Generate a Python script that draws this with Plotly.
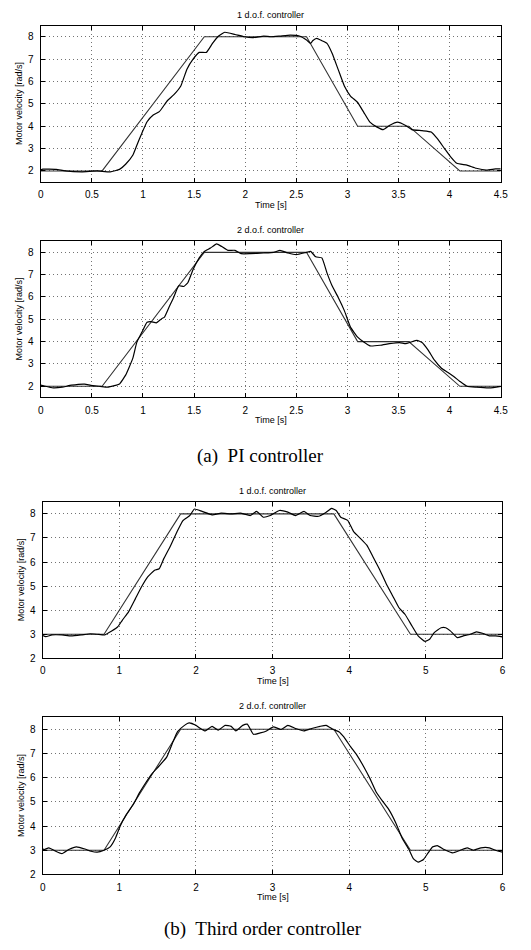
import plotly.graph_objects as go

# ---------------- data ----------------
# Reference trajectories
t_ref_pi = [0, 0.6, 1.6, 2.6, 3.1, 3.6, 4.1, 4.5]
v_ref_pi = [2, 2, 8, 8, 4, 4, 2, 2]
t_ref_3rd = [0, 0.8, 1.8, 3.8, 4.8, 6.0]
v_ref_3rd = [3, 3, 8, 8, 3, 3]

# (a) PI controller, 1 d.o.f.
t_pi1 = [0.0, 0.02, 0.15, 0.24, 0.4, 0.55, 0.68, 0.77, 0.83, 0.9, 0.94, 0.99, 1.04, 1.1, 1.16,
         1.24, 1.3, 1.37, 1.43, 1.49, 1.55, 1.62, 1.68, 1.74, 1.8, 1.9, 1.99, 2.08, 2.18, 2.25,
         2.34, 2.44, 2.53, 2.6, 2.64, 2.66, 2.7, 2.75, 2.8, 2.85, 2.91, 2.97, 3.03, 3.1, 3.16,
         3.22, 3.29, 3.35, 3.41, 3.49, 3.57, 3.63, 3.73, 3.82, 3.88, 3.95, 4.01, 4.07, 4.17,
         4.26, 4.36, 4.45, 4.5]
v_pi1 = [2.05, 2.08, 2.07, 2.0, 1.96, 2.0, 1.96, 2.07, 2.3, 2.7, 3.15, 3.7, 4.2, 4.5, 4.65,
         5.15, 5.4, 5.8, 6.55, 7.0, 7.3, 7.3, 7.7, 8.03, 8.2, 8.1, 8.0, 7.96, 8.03, 8.0,
         8.03, 8.07, 8.03, 7.85, 7.7, 7.82, 7.93, 7.82, 7.7, 7.26, 6.53, 5.8, 5.35, 5.06, 4.62,
         4.18, 3.96, 3.85, 4.03, 4.18, 4.03, 3.85, 3.8, 3.74, 3.44, 3.0, 2.63, 2.34, 2.26,
         2.12, 2.04, 2.09, 2.09]

# (a) PI controller, 2 d.o.f.
t_pi2 = [0.0, 0.02, 0.12, 0.21, 0.3, 0.43, 0.49, 0.58, 0.65, 0.73, 0.77, 0.83, 0.9, 0.94, 0.99,
         1.04, 1.08, 1.13, 1.18, 1.21, 1.26, 1.3, 1.35, 1.4, 1.44, 1.49, 1.55, 1.6, 1.66, 1.72,
         1.77, 1.83, 1.9, 1.96, 2.05, 2.18, 2.28, 2.34, 2.42, 2.5, 2.6, 2.64, 2.69, 2.75, 2.8,
         2.85, 2.91, 2.97, 3.03, 3.1, 3.16, 3.22, 3.32, 3.41, 3.51, 3.57, 3.62, 3.68, 3.73,
         3.79, 3.85, 3.92, 3.98, 4.04, 4.1, 4.17, 4.26, 4.39, 4.5]
v_pi2 = [2.05, 2.03, 1.93, 1.96, 2.05, 2.1, 2.04, 2.0, 1.96, 2.04, 2.1, 2.5, 3.25, 3.98, 4.43,
         4.87, 4.9, 4.84, 5.02, 5.1, 5.6, 5.98, 6.5, 6.47, 6.65, 7.23, 7.75, 8.04, 8.19, 8.38,
         8.26, 8.09, 8.09, 7.94, 7.94, 7.97, 8.0, 8.09, 7.97, 7.9, 8.0, 8.04, 7.8, 7.75, 7.08,
         6.5, 5.98, 5.39, 4.65, 4.2, 3.98, 3.81, 3.84, 3.91, 3.96, 3.91, 3.98, 4.06, 3.96,
         3.62, 3.18, 2.81, 2.63, 2.44, 2.22, 2.0, 1.96, 1.93, 2.0]

# (b) Third order controller, 1 d.o.f.
t_3rd1 = [0.0, 0.04, 0.12, 0.25, 0.37, 0.5, 0.62, 0.71, 0.81, 0.9, 0.98, 1.04, 1.12, 1.21, 1.29,
          1.37, 1.46, 1.52, 1.58, 1.67, 1.75, 1.83, 1.92, 1.98, 2.08, 2.21, 2.33, 2.46, 2.58,
          2.71, 2.79, 2.88, 2.97, 3.09, 3.2, 3.3, 3.41, 3.49, 3.6, 3.7, 3.77, 3.83, 3.89, 3.98,
          4.06, 4.15, 4.23, 4.31, 4.4, 4.48, 4.57, 4.65, 4.73, 4.82, 4.9, 4.99, 5.05, 5.11,
          5.2, 5.26, 5.32, 5.41, 5.49, 5.58, 5.66, 5.75, 5.83, 5.91, 6.0]
v_3rd1 = [2.95, 2.9, 2.97, 2.97, 2.93, 2.97, 3.02, 3.0, 2.97, 3.13, 3.31, 3.59, 3.93, 4.48, 4.97,
          5.38, 5.66, 5.72, 6.14, 6.69, 7.24, 7.72, 7.93, 8.2, 8.1, 7.96, 8.03, 8.0, 8.03,
          7.93, 8.1, 7.86, 7.93, 8.14, 8.07, 7.93, 8.1, 7.93, 7.9, 8.07, 8.23, 8.14, 7.86, 7.73,
          7.25, 6.97, 6.7, 6.22, 5.67, 5.12, 4.58, 4.1, 3.82, 3.34, 2.93, 2.7, 2.79, 3.07,
          3.27, 3.27, 3.14, 2.86, 2.93, 3.0, 3.1, 3.03, 2.93, 2.93, 2.89]

# (b) Third order controller, 2 d.o.f.
t_3rd2 = [0.0, 0.02, 0.08, 0.17, 0.25, 0.34, 0.44, 0.55, 0.63, 0.71, 0.8, 0.88, 0.95, 1.01, 1.09,
          1.18, 1.26, 1.34, 1.43, 1.51, 1.62, 1.7, 1.76, 1.85, 1.91, 2.0, 2.06, 2.12, 2.21,
          2.29, 2.38, 2.46, 2.52, 2.61, 2.67, 2.75, 2.84, 2.92, 3.01, 3.11, 3.2, 3.3, 3.41,
          3.51, 3.62, 3.7, 3.79, 3.87, 3.93, 4.02, 4.1, 4.19, 4.27, 4.35, 4.44, 4.52, 4.61,
          4.69, 4.78, 4.84, 4.9, 4.97, 5.03, 5.09, 5.15, 5.24, 5.35, 5.45, 5.54, 5.62, 5.72,
          5.83, 5.91, 6.0]
v_3rd2 = [3.05, 3.03, 3.1, 2.96, 2.86, 3.03, 3.14, 3.05, 2.96, 2.92, 3.0, 3.14, 3.51, 3.99, 4.47,
          4.88, 5.36, 5.77, 6.18, 6.45, 6.86, 7.48, 7.9, 8.16, 8.26, 8.16, 8.03, 7.93, 8.12,
          7.96, 8.16, 8.12, 7.93, 8.16, 8.21, 7.79, 7.85, 7.93, 8.1, 7.99, 8.16, 8.03, 7.93,
          8.03, 8.12, 8.16, 7.99, 7.89, 7.68, 7.27, 6.93, 6.45, 5.97, 5.42, 5.01, 4.67, 4.12,
          3.51, 3.03, 2.64, 2.51, 2.62, 2.89, 3.14, 3.19, 3.03, 2.89, 3.0, 3.1, 3.0, 3.1,
          3.1, 3.0, 2.92]

panel_titles = ["1 d.o.f. controller", "2 d.o.f. controller", "1 d.o.f. controller", "2 d.o.f. controller"]
captions = ["(a)  PI controller", "(b)  Third order controller"]
x_label = "Time [s]"
y_label = "Motor velocity [rad/s]"
pi_xticks = [0, 0.5, 1, 1.5, 2, 2.5, 3, 3.5, 4, 4.5]
pi_xtext = ["0", "0.5", "1", "1.5", "2", "2.5", "3", "3.5", "4", "4.5"]
rd_xticks = [0, 1, 2, 3, 4, 5, 6]
yticks = [2, 3, 4, 5, 6, 7, 8]

# ---------------- layout helpers ----------------
W, H = 531, 950
# pixel boxes: (left, right, top, bottom)
boxes = [(38.5, 507.3, 25.7, 183.3),
         (38.5, 507.3, 242.7, 400.0),
         (40.5, 509.0, 505.0, 662.5),
         (40.5, 509.0, 721.7, 880.0)]

fig = go.Figure()

panels = [
    (t_ref_pi, v_ref_pi, t_pi1, v_pi1, [0, 4.5], [1.5, 8.5], pi_xticks, pi_xtext),
    (t_ref_pi, v_ref_pi, t_pi2, v_pi2, [0, 4.5], [1.5, 8.5], pi_xticks, pi_xtext),
    (t_ref_3rd, v_ref_3rd, t_3rd1, v_3rd1, [0, 6], [2, 8.5], rd_xticks, [str(v) for v in rd_xticks]),
    (t_ref_3rd, v_ref_3rd, t_3rd2, v_3rd2, [0, 6], [2, 8.5], rd_xticks, [str(v) for v in rd_xticks]),
]

font_sans = "Liberation Sans, Arial, sans-serif"
font_serif = "Liberation Serif, Times New Roman, serif"

annotations = []
for i, (tr, vr, tm, vm, xr, yr, xt, xtt) in enumerate(panels):
    n = "" if i == 0 else str(i + 1)
    xa, ya = "x" + n, "y" + n
    l, r, t, b = boxes[i]
    fig.add_trace(go.Scatter(x=tr, y=vr, mode="lines", xaxis=xa, yaxis=ya,
                             line=dict(color="#333333", width=1.1), showlegend=False))
    fig.add_trace(go.Scatter(x=tm, y=vm, mode="lines", xaxis=xa, yaxis=ya,
                             line=dict(color="black", width=1.2, shape="spline", smoothing=0.4),
                             showlegend=False))
    common = dict(showline=True, linecolor="black", linewidth=1.2, mirror="ticks",
                  ticks="inside", ticklen=4, tickcolor="black",
                  showgrid=True, gridcolor="rgba(0,0,0,0.55)", griddash="1px,3px", gridwidth=1,
                  zeroline=False, tickfont=dict(family=font_sans, size=10, color="black"))
    fig.layout["xaxis" + n] = dict(domain=[l / W, r / W], anchor=ya, range=xr,
                                   tickvals=xt, ticktext=xtt, ticklabelstandoff=3, **common)
    fig.layout["yaxis" + n] = dict(domain=[1 - b / H, 1 - t / H], anchor=xa, range=yr,
                                   tickvals=yticks, ticklabelstandoff=4, **common)
    cx = (l + r) / 2
    annotations.append(dict(text=panel_titles[i], x=cx / W, y=1 - (t - 11) / H, xref="paper", yref="paper",
                            showarrow=False, font=dict(family=font_sans, size=9, color="black"),
                            xanchor="center", yanchor="middle"))
    annotations.append(dict(text=x_label, x=cx / W, y=1 - (b + 23) / H, xref="paper", yref="paper",
                            showarrow=False, font=dict(family=font_sans, size=9, color="black"),
                            xanchor="center", yanchor="middle"))
    annotations.append(dict(text=y_label, x=(l - 22) / W, y=1 - (t + b) / 2 / H, xref="paper", yref="paper",
                            showarrow=False, textangle=-90,
                            font=dict(family=font_sans, size=9, color="black"),
                            xanchor="center", yanchor="middle"))

annotations.append(dict(text=captions[0], x=262 / W, y=1 - 459 / H, xref="paper", yref="paper",
                        showarrow=False, font=dict(family=font_serif, size=19, color="black"),
                        xanchor="center", yanchor="middle"))
annotations.append(dict(text=captions[1], x=265 / W, y=1 - 935 / H, xref="paper", yref="paper",
                        showarrow=False, font=dict(family=font_serif, size=19, color="black"),
                        xanchor="center", yanchor="middle"))

fig.update_layout(width=W, height=H, margin=dict(l=0, r=0, t=0, b=0),
                  paper_bgcolor="white", plot_bgcolor="white", annotations=annotations)

fig.write_html("out.html")
